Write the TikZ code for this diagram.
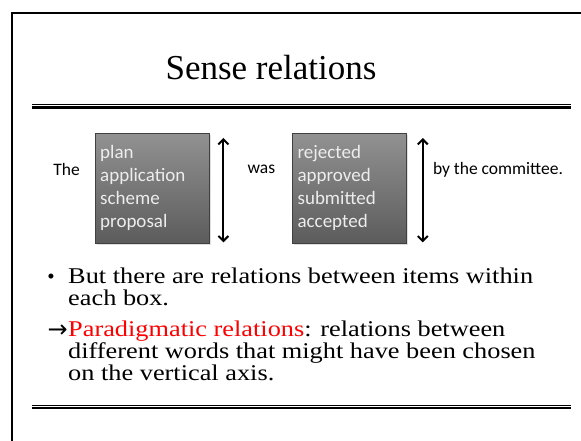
\documentclass[tikz,border=0pt]{standalone}
\usepackage{fontspec}
\setmainfont{Liberation Serif}
\newfontfamily\bodyfont[FakeStretch=1.17]{Liberation Serif}
\newfontfamily\wordfont{Carlito}
\newfontfamily\symfont{DejaVu Sans}
\usetikzlibrary{arrows.meta,positioning,shadows}

\begin{document}
\begin{tikzpicture}[
  x=1pt, y=-1pt,
  wordbox/.style={draw=black!75, top color=black!43, bottom color=black!64,
    text=white!93!black, font=\wordfont\fontsize{19}{23}\selectfont,
    align=left, text width=104pt, inner xsep=5pt, minimum height=110pt,
    drop shadow={opacity=0.25, shadow xshift=1.5pt, shadow yshift=-1.5pt}},
  word/.style={font=\wordfont\fontsize{17.5}{21}\selectfont, inner sep=0pt},
  para/.style={font=\bodyfont\fontsize{22.5}{22}\selectfont, align=left, anchor=base west, inner sep=0pt},
  arr/.style={{Straight Barb[length=5pt,width=10pt]}-{Straight Barb[length=5pt,width=10pt]}, line width=2pt}
]
\useasboundingbox (0,0) rectangle (581,441);
% slide frame and rules
\draw[line width=2pt] (12,441) -- (12,13) -- (581,13);
\draw[line width=1pt] (32,105) -- (571,105);
\draw[line width=2.4pt] (32,107.6) -- (571,107.6);
\draw[line width=1pt] (32,405.5) -- (571,405.5);
\draw[line width=2.4pt] (32,408.2) -- (571,408.2);

\node[font=\fontsize{35}{35}\selectfont, anchor=base] (title) at (271,80) {Sense relations};

% the two boxes of alternatives
\node[wordbox, anchor=north west] (b1) at (95,133) {plan\\application\\scheme\\proposal};
\node[wordbox, right=83pt of b1] (b2) {rejected\\approved\\submitted\\accepted};

\coordinate (t1) at ([xshift=14pt,yshift=-5pt]b1.north east);
\coordinate (u1) at ([xshift=14pt,yshift=1pt]b1.south east);
\coordinate (t2) at ([xshift=16pt,yshift=-5pt]b2.north east);
\coordinate (u2) at ([xshift=16pt,yshift=1pt]b2.south east);
\draw[arr] (u1) -- (t1);
\draw[arr] (u2) -- (t2);

\node[word, anchor=east] (the) at ([xshift=-15pt,yshift=19pt]b1.west) {The};
\node[word] (was) at ([xshift=-31pt,yshift=19pt]b2.west) {was};
\node[word, anchor=west] (by) at ([xshift=26pt,yshift=18pt]b2.east) {by the committee.};

% bullet points (base = last line)
\node[para] (p1) at (68,305) {But there are relations between items within\\each box.};
\node[para, anchor=base east, font=\fontsize{21}{21}\selectfont] (dot) at (55,283) {\textbullet};
\node[para] (p2) at (68,380) {\textcolor{red}{Paradigmatic relations}: relations between\\different words that might have been chosen\\on the vertical axis.};
\node[para, anchor=base east, font=\symfont\fontsize{24}{24}\selectfont] (ar) at (68,337) {→};
\end{tikzpicture}
\end{document}
